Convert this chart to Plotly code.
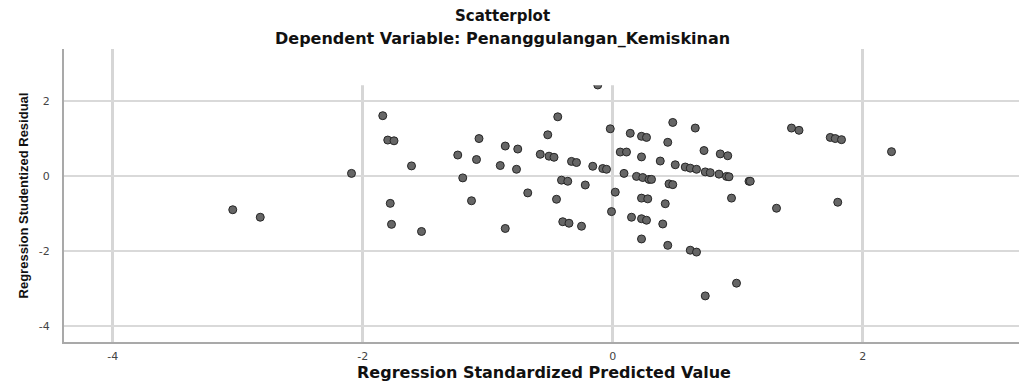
import plotly.graph_objects as go

# Regression Standardized Predicted Value
pred = [-3.04, -2.82, -2.09, -1.84, -1.80, -1.75, -1.78, -1.77, -1.61, -1.53,
        -1.24, -1.09, -1.20, -1.13, -1.07, -0.86, -0.76, -0.90, -0.77, -0.86,
        -0.68, -0.58, -0.51, -0.47, -0.52, -0.44, -0.33, -0.29, -0.16, -0.08,
        -0.05, -0.41, -0.36, -0.22, -0.45, -0.40, -0.35, -0.25, -0.12, -0.02,
        0.14, 0.23, 0.27, 0.48, 0.66, 0.44, 0.06, 0.11, 0.23, 0.38,
        0.50, 0.58, 0.62, 0.67, 0.73, 0.86, 0.92, 0.74, 0.78, 0.85,
        0.91, 0.93, 1.09, 1.10, 0.09, 0.19, 0.24, 0.29, 0.31, 0.02,
        0.23, 0.28, 0.45, 0.48, 0.42, 0.95, 1.31, 1.80, -0.01, 0.15,
        0.23, 0.27, 0.40, 0.23, 0.44, 0.62, 0.67, 0.99, 0.74, 1.43,
        1.49, 1.74, 1.78, 1.83, 2.23]

# Regression Studentized Residual
resid = [-0.90, -1.10, 0.07, 1.61, 0.96, 0.94, -0.73, -1.29, 0.27, -1.48,
         0.56, 0.44, -0.05, -0.66, 1.00, 0.80, 0.72, 0.28, 0.18, -1.40,
         -0.45, 0.58, 0.53, 0.50, 1.10, 1.58, 0.39, 0.36, 0.26, 0.20,
         0.18, -0.11, -0.14, -0.24, -0.62, -1.22, -1.26, -1.34, 2.43, 1.26,
         1.14, 1.06, 1.03, 1.43, 1.28, 0.90, 0.64, 0.64, 0.51, 0.40,
         0.30, 0.24, 0.21, 0.18, 0.68, 0.59, 0.54, 0.11, 0.09, 0.05,
         -0.01, -0.02, -0.14, -0.14, 0.07, -0.01, -0.04, -0.09, -0.09, -0.43,
         -0.59, -0.61, -0.21, -0.23, -0.74, -0.59, -0.86, -0.70, -0.95, -1.10,
         -1.14, -1.18, -1.28, -1.68, -1.85, -1.98, -2.03, -2.86, -3.20, 1.28,
         1.22, 1.03, 1.00, 0.97, 0.65]

tick_vals = [-4, -2, 0, 2]
tick_text = ["-4", "-2", "0", "2"]

title_text = "Scatterplot"
subtitle_text = "Dependent Variable: Penanggulangan_Kemiskinan"
x_title = "Regression Standardized Predicted Value"
y_title = "Regression Studentized Residual"

fig = go.Figure(
    go.Scatter(
        x=pred, y=resid, mode="markers",
        marker=dict(size=8, color="#666666", line=dict(color="#262626", width=1)),
        hoverinfo="x+y", showlegend=False,
    )
)

fig.update_layout(
    width=1019, height=374,
    margin=dict(l=56, r=3, t=41, b=40),
    paper_bgcolor="white", plot_bgcolor="white",
    font=dict(family="Liberation Sans, Arial, sans-serif", color="#222"),
    xaxis=dict(
        range=[-4.39, 3.29], tickvals=tick_vals, ticktext=tick_text,
        showgrid=True, gridcolor="#d6d6d6", gridwidth=2.5,
        zeroline=False, showline=True, linecolor="#a9a9a9", linewidth=2,
        ticks="", ticklabelstandoff=3, automargin=False,
        tickfont=dict(family="DejaVu Sans", size=11, color="#444"),
        title=dict(text=x_title, standoff=5,
                   font=dict(family="DejaVu Sans", size=16, weight="bold", color="#111")),
    ),
    yaxis=dict(
        range=[-4.43, 3.39], tickvals=tick_vals, ticktext=tick_text,
        showgrid=True, gridcolor="#d9d9d9", gridwidth=1.5,
        zeroline=False, showline=True, linecolor="#a9a9a9", linewidth=2,
        ticks="", ticklabelstandoff=10, automargin=False,
        tickfont=dict(family="DejaVu Sans", size=11, color="#444"),
        title=dict(text=y_title, standoff=7,
                   font=dict(family="Liberation Sans", size=13, weight="bold", color="#111")),
    ),
    shapes=[dict(type="rect", xref="x", yref="y", x0=-3.5, x1=1.6, y0=2.42, y1=3.39,
                 fillcolor="white", line=dict(width=0), layer="above")],
    annotations=[
        dict(text=title_text, xref="paper", yref="paper", x=0.457, y=1.1126,
             xanchor="center", yanchor="middle", showarrow=False,
             font=dict(family="DejaVu Sans", size=15, weight="bold", color="#111")),
        dict(text=subtitle_text, xref="paper", yref="paper", x=0.457, y=1.035,
             xanchor="center", yanchor="middle", showarrow=False,
             font=dict(family="DejaVu Sans", size=16, weight="bold", color="#111")),
    ],
)

fig.write_html("out.html")
